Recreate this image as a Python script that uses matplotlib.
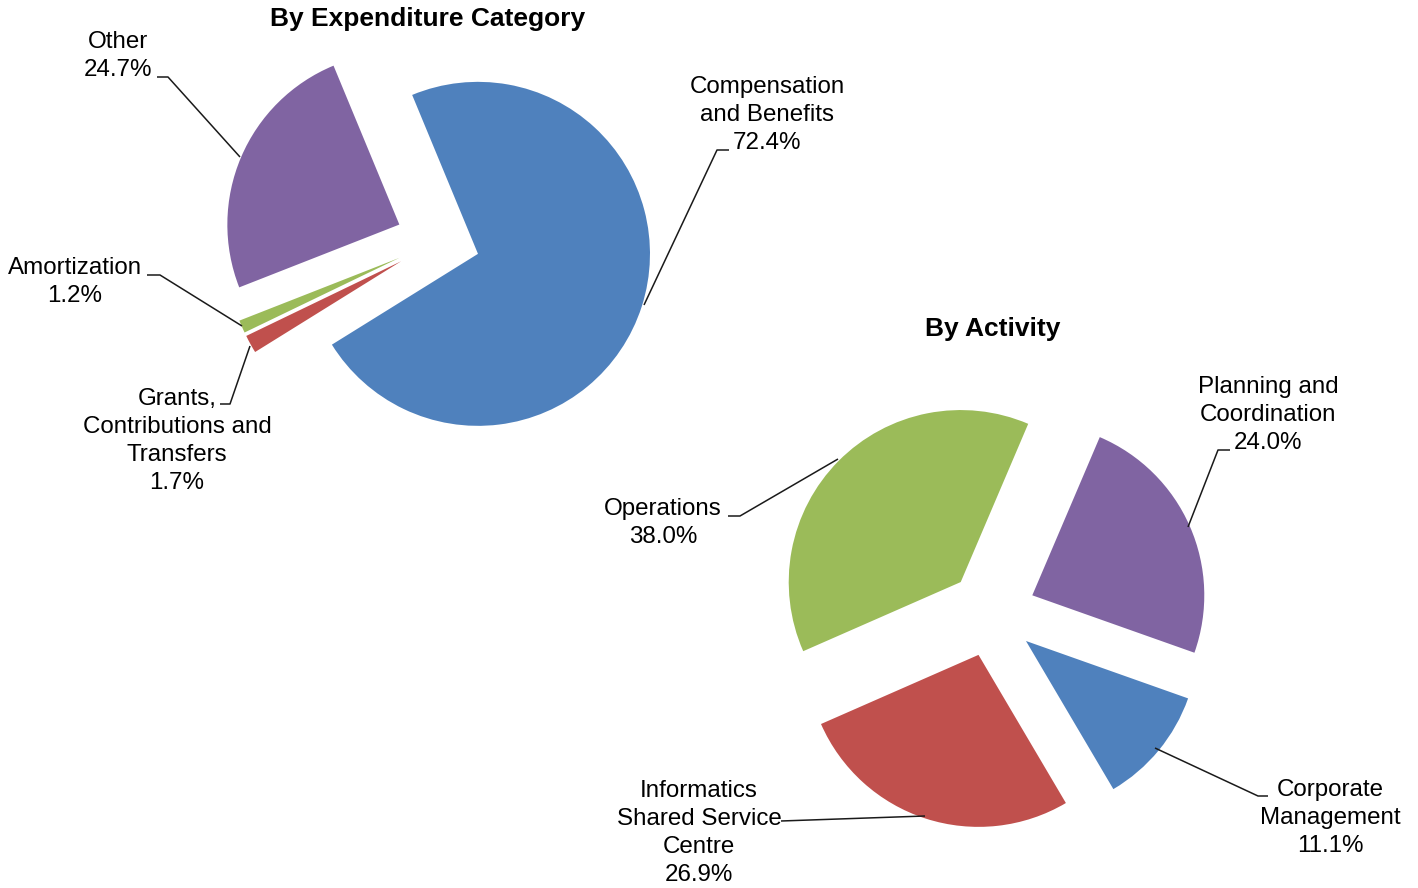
import matplotlib.pyplot as plt

plt.rcParams['font.family'] = ['Liberation Sans', 'DejaVu Sans']

# Spending breakdown, expenditure category (clockwise from the blue slice)
exp_labels = ['Compensation\nand Benefits', 'Grants,\nContributions and\nTransfers',
              'Amortization', 'Other']
exp_values = [72.4, 1.7, 1.2, 24.7]

# Spending breakdown, activity
act_labels = ['Corporate\nManagement', 'Informatics\nShared Service\nCentre',
              'Operations', 'Planning and\nCoordination']
act_values = [11.1, 26.9, 38.0, 24.0]

colors = ['#4F81BD', '#C0504D', '#9BBB59', '#8064A2']

W, H = 1418, 888
fig = plt.figure(figsize=(W / 100, H / 100), dpi=100)
ax = fig.add_axes([0, 0, 1, 1])


def fy(y):
    # top-down pixel row -> axis y
    return H - y


R = 172
ax.pie(exp_values, colors=colors, center=(438, fy(241)), radius=R,
       explode=[42] * 4, startangle=112.5, counterclock=False,
       wedgeprops=dict(linewidth=0))
ax.pie(act_values, colors=colors, center=(992, fy(613)), radius=R,
       explode=[44] * 4, startangle=-19.5, counterclock=False,
       wedgeprops=dict(linewidth=0))

ax.set_xlim(0, W)
ax.set_ylim(0, H)
ax.set_aspect('equal')
ax.axis('off')

FS = 17.4
TFS = 19
ax.text(428, fy(19), 'By Expenditure Category', ha='center', va='center',
        fontsize=TFS, fontweight='bold')
ax.text(993, fy(329), 'By Activity', ha='center', va='center',
        fontsize=TFS, fontweight='bold')

# label anchor (block centre) and leader line points for each slice
exp_text_pos = [(767, 115), (177, 441), (75, 282), (118, 56)]
exp_leaders = [[(644, 305), (717, 150), (729, 150)],
               [(250, 346), (230, 404), (220, 404)],
               [(242, 326), (160, 275), (147, 275)],
               [(240, 157), (168, 77), (157, 77)]]
act_text_pos = [(1330, 818), (699, 833), (663, 523), (1268, 415)]
act_leaders = [[(1155, 748), (1258, 796), (1268, 796)],
               [(925, 816), (781, 821)],
               [(838, 459), (740, 516), (728, 516)],
               [(1188, 527), (1218, 450), (1230, 450)]]

for labels, values, pos, leaders in [
        (exp_labels, exp_values, exp_text_pos, exp_leaders),
        (act_labels, act_values, act_text_pos, act_leaders)]:
    for lab, v, (tx, ty), pts in zip(labels, values, pos, leaders):
        ax.text(tx, fy(ty), f'{lab}\n{v:.1f}%', ha='center', va='center',
                fontsize=FS, linespacing=1.34, multialignment='center')
        ax.plot([p[0] for p in pts], [fy(p[1]) for p in pts],
                color='#1a1a1a', linewidth=1.1, solid_capstyle='butt')

fig.savefig('out.png', dpi=100)
